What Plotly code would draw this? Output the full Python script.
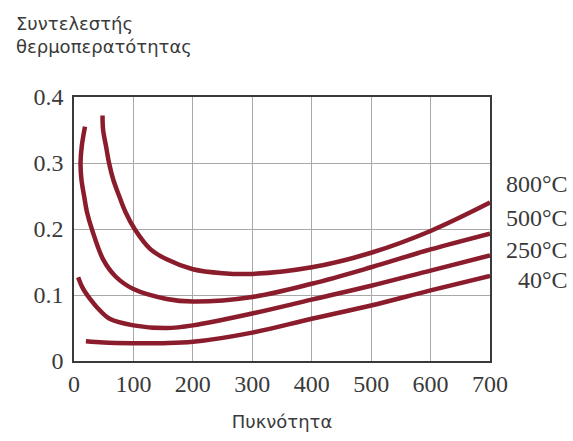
import plotly.graph_objects as go

# Data
x_800 = [48, 49, 54, 59, 66, 76, 87, 102, 128, 156, 200, 250, 300, 400, 500, 600, 700]
y_800 = [0.372, 0.35, 0.325, 0.30, 0.275, 0.25, 0.225, 0.2, 0.17, 0.154, 0.139, 0.133, 0.132, 0.142, 0.164, 0.197, 0.24]

x_500 = [18.5, 13, 11, 12.5, 17, 22, 30, 49, 70, 100, 156, 200, 300, 400, 500, 600, 700]
y_500 = [0.355, 0.325, 0.30, 0.275, 0.25, 0.225, 0.2, 0.154, 0.128, 0.109, 0.094, 0.09, 0.097, 0.117, 0.142, 0.169, 0.193]

x_250 = [7, 15, 27, 40, 60, 100, 156, 200, 300, 400, 500, 600, 700]
y_250 = [0.127, 0.11, 0.094, 0.08, 0.064, 0.054, 0.05, 0.054, 0.072, 0.093, 0.114, 0.137, 0.16]

x_40 = [20, 50, 100, 150, 200, 300, 400, 500, 600, 700]
y_40 = [0.030, 0.028, 0.027, 0.027, 0.029, 0.043, 0.064, 0.084, 0.107, 0.129]

series_labels = ["800°C", "500°C", "250°C", "40°C"]
label_y = [0.268, 0.216, 0.168, 0.123]

x_ticks = [0, 100, 200, 300, 400, 500, 600, 700]
y_ticks = [0, 0.1, 0.2, 0.3, 0.4]
y_tick_text = ["0", "0.1", "0.2", "0.3", "0.4"]

line_color = "#8a1c2c"
text_color = "#3a3a3a"
serif = "Liberation Serif, Times New Roman, serif"
sans = "DejaVu Sans, Arial, sans-serif"

fig = go.Figure()
for xs, ys in [(x_800, y_800), (x_500, y_500), (x_250, y_250), (x_40, y_40)]:
    fig.add_trace(go.Scatter(x=xs, y=ys, mode="lines",
                             line=dict(color=line_color, width=4.5, shape="spline", smoothing=1.0),
                             showlegend=False, hoverinfo="skip"))

for lab, ly in zip(series_labels, label_y):
    fig.add_annotation(x=1.192, xref="paper", y=ly, yref="y", text=lab,
                       showarrow=False, xanchor="right", yanchor="middle",
                       font=dict(family=serif, size=24, color=text_color))

fig.add_annotation(x=-0.145, xref="paper", y=1.325, yref="paper",
                   text="Συντελεστής<br>θερμοπερατότητας", showarrow=False,
                   xanchor="left", yanchor="top", align="left",
                   font=dict(family=sans, size=18, color=text_color))

fig.update_layout(
    width=573, height=441,
    margin=dict(l=74, r=83, t=97, b=78),
    paper_bgcolor="white", plot_bgcolor="white",
    xaxis=dict(range=[0, 700], tickvals=x_ticks, showgrid=True, gridcolor="#a8a8a8", gridwidth=1,
               showline=True, linecolor="#3a3a3a", linewidth=1.5, mirror=True, zeroline=False,
               ticks="", tickfont=dict(family=serif, size=24, color=text_color),
               title=dict(text="Πυκνότητα", font=dict(family=sans, size=18, color=text_color), standoff=20)),
    yaxis=dict(range=[0, 0.4], tickvals=y_ticks, ticktext=y_tick_text, showgrid=True, gridcolor="#a8a8a8",
               gridwidth=1, showline=True, linecolor="#3a3a3a", linewidth=1.5, mirror=True, zeroline=False,
               ticks="", ticklabelstandoff=4, tickfont=dict(family=serif, size=24, color=text_color)),
)

fig.write_html("out.html", config={"displayModeBar": False},
               post_script="document.body.style.margin='0';document.body.style.padding='0';")
